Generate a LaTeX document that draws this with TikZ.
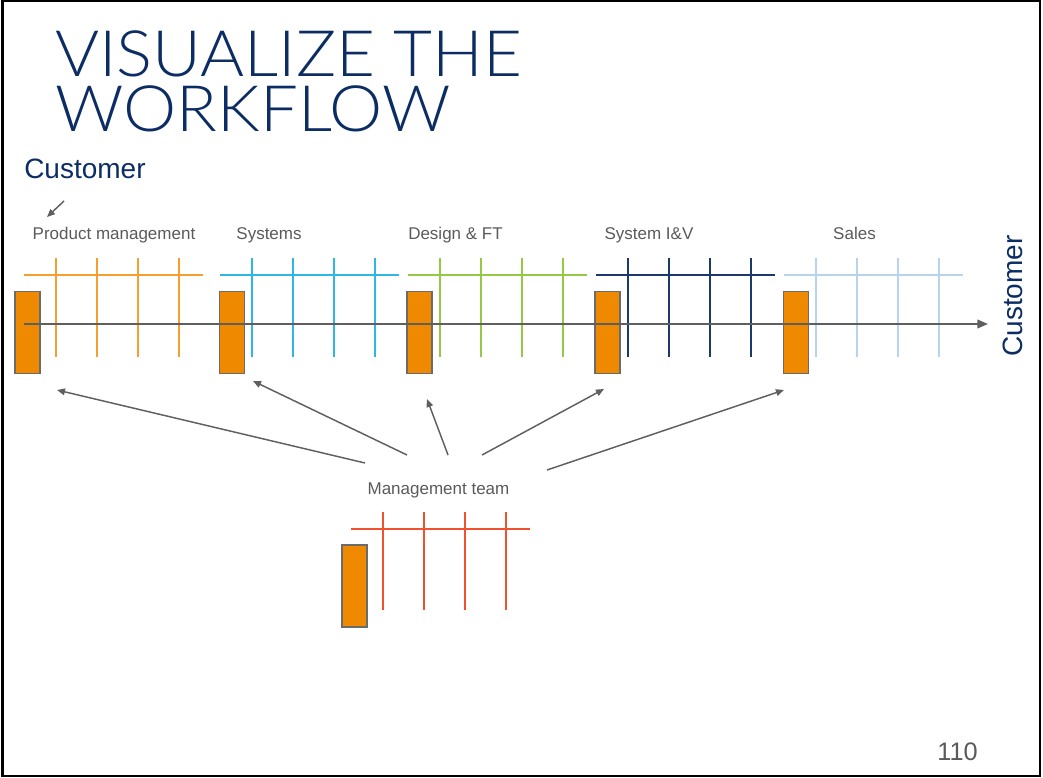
\documentclass[tikz,border=0pt]{standalone}
\usepackage{fontspec}
\setmainfont{Liberation Sans}
\newfontfamily\titlefont{Lato Light}
\usetikzlibrary{arrows.meta}
\definecolor{navy}{HTML}{0B2D64}
\definecolor{labelgray}{HTML}{5A5A5A}
\definecolor{arrowgray}{HTML}{5F5F5F}
\definecolor{boxorange}{HTML}{EE8900}
\definecolor{boxgray}{HTML}{6B6B6B}
\definecolor{cOrange}{HTML}{F5A02E}
\definecolor{cCyan}{HTML}{2DB7E2}
\definecolor{cGreen}{HTML}{95C844}
\definecolor{cNavy}{HTML}{1B3A6B}
\definecolor{cLight}{HTML}{B8D3EE}
\definecolor{cRed}{HTML}{F0512E}
\begin{document}
\begin{tikzpicture}[x=0.75pt,y=-0.75pt,
  box/.style={draw=boxgray, fill=boxorange, line width=1.3pt, inner sep=0pt, outer sep=0pt,
              minimum width=18.75pt, minimum height=61.5pt},
  lbl/.style={text=labelgray, font=\fontsize{12.75pt}{14pt}\selectfont, inner sep=0pt, anchor=base},
  ptr/.style={draw=arrowgray, line width=1.1pt, -{Triangle[length=6pt,width=5pt]}},
  lane/.style={line width=1.4pt},
  ttl/.style={anchor=base west, inner sep=0pt, text=navy, xscale=1.05, text depth=0pt,
              font=\titlefont\fontsize{48pt}{50pt}\selectfont}]
\useasboundingbox (0,0) rectangle (1043,778);
\draw[black, line width=1.8pt] (2.5,1) rectangle (1040,776);

% title
\node[ttl] (t1) at (55,76) {VISUALIZE THE};
\node[ttl] (t2) at (55,131) {WORKFLOW};

\node[anchor=base west, inner sep=0pt, text=navy, font=\fontsize{21pt}{24pt}\selectfont] (cust) at (24,178) {Customer};
\node[rotate=90, anchor=base, inner sep=0pt, text=navy, font=\fontsize{21pt}{24pt}\selectfont] (cust2) at (1022,296) {Customer};

% lane labels
\node[lbl] (l1) at (114,239) {Product management};
\node[lbl] (l2) at (269,239) {Systems};
\node[lbl] (l3) at (455.5,239) {Design \& FT};
\node[lbl] (l4) at (649,239) {System I\&V};
\node[lbl] (l5) at (854.5,239) {Sales};
\node[lbl] (lm) at (438.5,494) {Management team};

\coordinate (cs) at (64,201);
\coordinate (ce) at (47,217);
\draw[ptr] (cs) -- (ce);

% lanes
\foreach \c/\x/\n in {cOrange/24/1, cCyan/220/2, cGreen/408/3, cNavy/596/4, cLight/784/5}{
  \draw[lane, \c] (\x,275) -- ++(179,0);
  \foreach \k in {0,1,2,3}
    \draw[lane, \c] (\x+32+\k*41,258) -- ++(0,99);
}
\node[box] (r1) at (27.5,332.5) {};
\node[box] (r2) at (232,332.5) {};
\node[box] (r3) at (419.5,332.5) {};
\node[box] (r4) at (607.5,332.5) {};
\node[box] (r5) at (796,332.5) {};

% axis
\coordinate (ax0) at (24,324);
\coordinate (ax1) at (988,324);
\draw[draw=arrowgray, line width=1.4pt, -{Triangle[length=8pt,width=6.5pt]}] (ax0) -- (ax1);

% management team lane
\draw[lane, cRed] (351,529) -- (530,529);
\foreach \k in {0,1,2,3}
  \draw[lane, cRed] (383+\k*41,512) -- ++(0,98);
\node[box] (rm) at (354.5,586) {};

% arrows from management team
\coordinate (s1) at (365,463); \coordinate (e1) at (57,390);
\coordinate (s2) at (407,455); \coordinate (e2) at (253,381);
\coordinate (s3) at (448,455); \coordinate (e3) at (427,399);
\coordinate (s4) at (482,455); \coordinate (e4) at (604,389);
\coordinate (s5) at (547,470); \coordinate (e5) at (784,390);
\foreach \i in {1,...,5} \draw[ptr] (s\i) -- (e\i);

\node[anchor=base east, inner sep=0pt, text=labelgray, font=\fontsize{19pt}{22pt}\selectfont] (pg) at (978,760) {110};
\end{tikzpicture}
\end{document}
